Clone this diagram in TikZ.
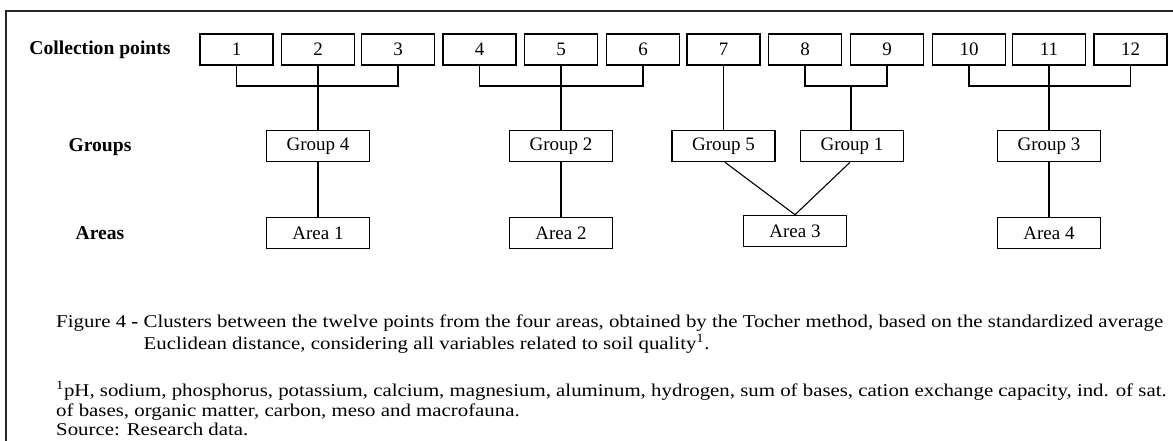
\documentclass[tikz,border=0pt]{standalone}
\usepackage{graphicx}
\usepackage{fontspec}
\setmainfont{Liberation Serif}
\newcommand{\wide}[1]{\scalebox{1.158}[1]{#1}}
\begin{document}
\begin{tikzpicture}[x=1pt,y=1pt,
  pbox/.style={draw,line width=1.6pt,minimum width=73pt,minimum height=31pt,inner sep=0pt,font=\fontsize{19}{20}\selectfont},
  gbox/.style={draw,line width=1.6pt,minimum width=103pt,minimum height=31pt,inner sep=0pt,font=\fontsize{19}{20}\selectfont},
  lab/.style={font=\fontsize{19.6}{20}\selectfont\bfseries},
  conn/.style={line width=1.1pt},
  captxt/.style={anchor=base west,inner sep=0pt,font=\fontsize{18}{20}\selectfont}]
\useasboundingbox (0,0) rectangle (1173,-441);
\draw[line width=1.1pt,black!85] (6,-441) -- (6,-11) -- (1173,-11);
% labels
\node[lab] (lcp) at (100,-50) {Collection points};
\node[lab] (lg) at (100,-147) {Groups};
\node[lab] (la) at (100,-233) {Areas};
% collection points
\node[pbox] (p1) at (236.5,-49.5) {1};
\node[pbox] (p2) at (318,-49.5) {2};
\node[pbox] (p3) at (398,-49.5) {3};
\node[pbox] (p4) at (479.5,-49.5) {4};
\node[pbox] (p5) at (561,-49.5) {5};
\node[pbox] (p6) at (643,-49.5) {6};
\node[pbox] (p7) at (723.5,-49.5) {7};
\node[pbox] (p8) at (805,-49.5) {8};
\node[pbox] (p9) at (887,-49.5) {9};
\node[pbox] (p10) at (969,-49.5) {10};
\node[pbox] (p11) at (1049,-49.5) {11};
\node[pbox] (p12) at (1130.5,-49.5) {12};
% groups
\node[gbox] (g4) at (318,-146) {Group 4};
\node[gbox] (g2) at (561,-146) {Group 2};
\node[gbox] (g5) at (723.5,-146) {Group 5};
\node[gbox] (g1) at (852,-146) {Group 1};
\node[gbox] (g3) at (1049,-146) {Group 3};
% areas
\node[gbox] (a1) at (318,-233) {Area 1};
\node[gbox] (a2) at (561,-233) {Area 2};
\node[gbox] (a3) at (795,-231) {Area 3};
\node[gbox] (a4) at (1049,-233) {Area 4};
% brackets
\coordinate (j89) at (851,-86);
\draw[conn] (p1.south) -- (p1.south |- 0,-86) -- (p3.south |- 0,-86) -- (p3.south);
\draw[conn] (p4.south) -- (p4.south |- 0,-86) -- (p6.south |- 0,-86) -- (p6.south);
\draw[conn] (p8.south) -- (p8.south |- 0,-86) -- (p9.south |- 0,-86) -- (p9.south);
\draw[conn] (p10.south) -- (p10.south |- 0,-86) -- (p12.south |- 0,-86) -- (p12.south);
\draw[conn] (p2.south) -- (g4.north);
\draw[conn] (p5.south) -- (g2.north);
\draw[conn] (p7.south) -- (g5.north);
\draw[conn] (j89) -- (j89 |- g1.north);
\draw[conn] (p11.south) -- (g3.north);
\draw[conn] (g4.south) -- (a1.north);
\draw[conn] (g2.south) -- (a2.north);
\draw[conn] (g3.south) -- (a4.north);
\draw[conn] ([xshift=1.5pt]g5.south) -- (a3.north);
\draw[conn] ([xshift=-2pt]g1.south) -- (a3.north);
% caption
\node[captxt] (c1) at (56,-327) {\wide{Figure 4 \textbf{-} Clusters between the twelve points from the four areas, obtained by the Tocher method, based on the standardized average}};
\node[captxt] (c2) at (56,-349) {\wide{\phantom{Figure 4 \textbf{-} }Euclidean distance, considering all variables related to soil quality\textsuperscript{1}.}};
\node[captxt] (c3) at (56,-396) {\wide{\textsuperscript{1}pH, sodium, phosphorus, potassium, calcium, magnesium, aluminum, hydrogen, sum of bases, cation exchange capacity, ind. of sat.}};
\node[captxt] (c4) at (56,-416) {\wide{of bases, organic matter, carbon, meso and macrofauna.}};
\node[captxt] (c5) at (56,-435) {\wide{Source: Research data.}};
\end{tikzpicture}
\end{document}
